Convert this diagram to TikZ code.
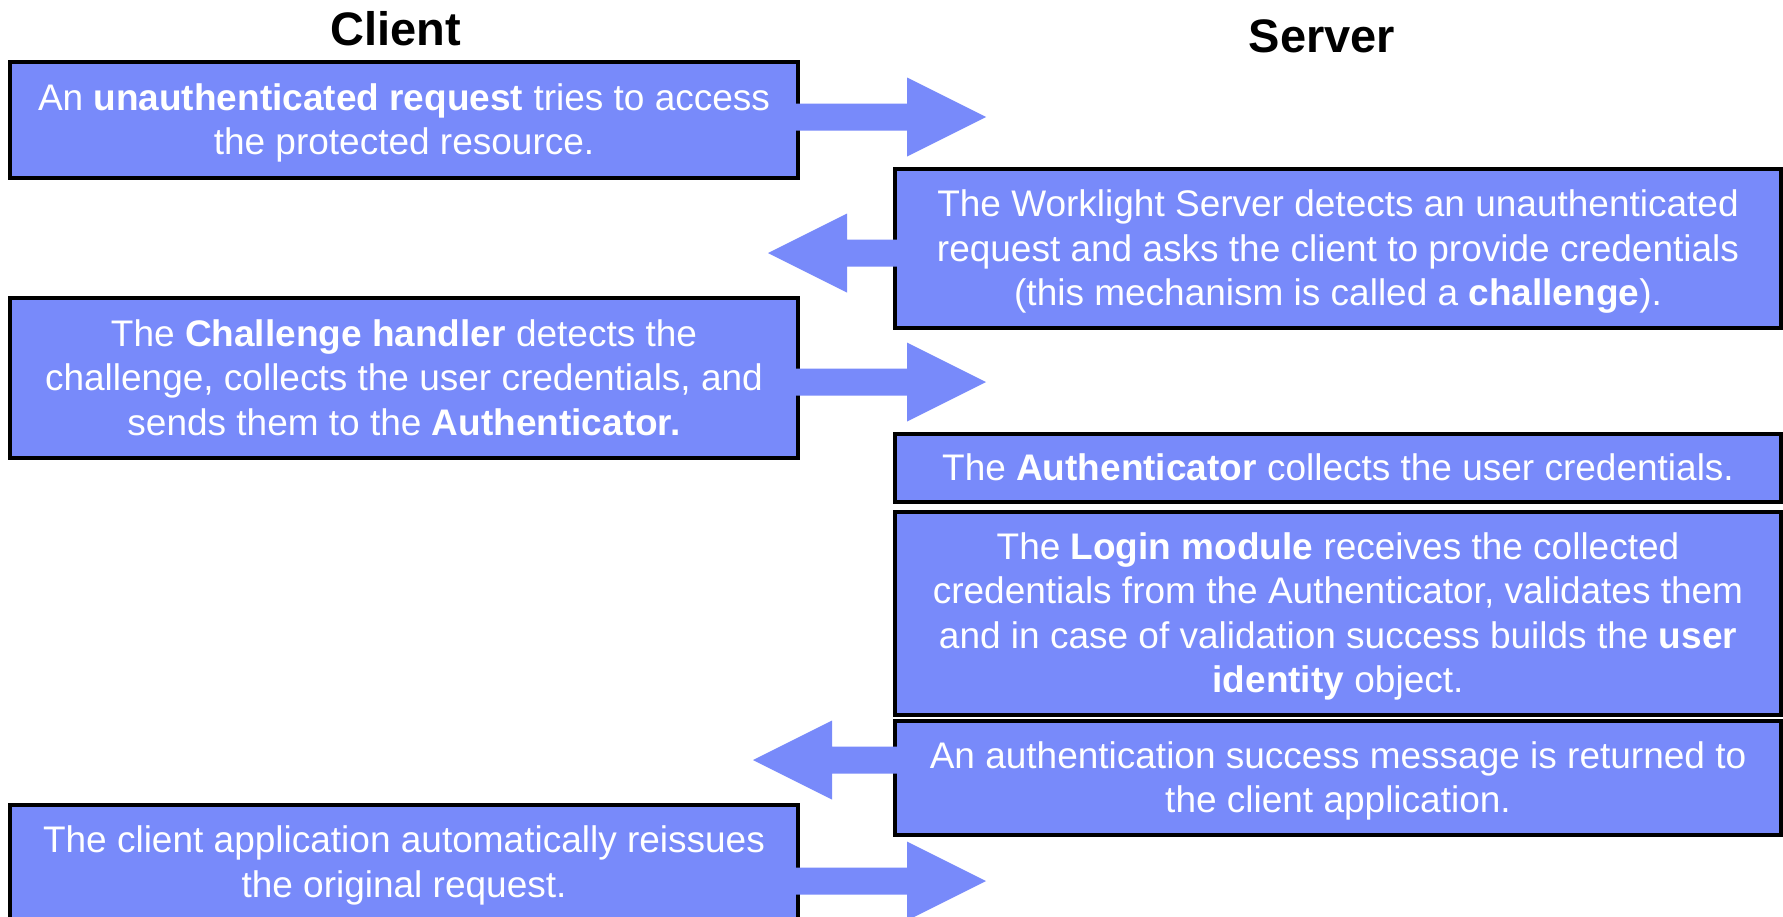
\documentclass[tikz,border=0pt]{standalone}
\usepackage{fontspec}
\setmainfont{Liberation Sans}
\usetikzlibrary{calc}
\definecolor{boxblue}{RGB}{120,138,250}
\newcommand\lnstrut{\rule[-8pt]{0pt}{41pt}}
\tikzset{
  box/.style={draw=black, line width=4pt, fill=boxblue, text=white, align=center,
    inner sep=0pt, outer sep=0pt, font=\fontsize{37}{44.5}\selectfont},
  lbox/.style={box, minimum width=788pt},
  rbox/.style={box, minimum width=886pt},
  title/.style={font=\fontsize{47}{56}\selectfont\bfseries, anchor=base},
  arrowfill/.style={fill=boxblue},
}
\newcommand\barrow[2]{%
  \fill[arrowfill] let \p1=(#1), \p2=(#2), \n1={sign(\x2-\x1)} in
    (\x1,\y1+13.5pt) -- (\x2-\n1*79pt,\y1+13.5pt) -- (\x2-\n1*79pt,\y1+39.5pt)
    -- (\x2,\y2) -- (\x2-\n1*79pt,\y1-39.5pt) -- (\x2-\n1*79pt,\y1-13.5pt)
    -- (\x1,\y1-13.5pt) -- cycle;}
\begin{document}
\begin{tikzpicture}[x=1pt,y=-1pt]
\useasboundingbox (0,0) rectangle (1783,916);
\clip (0,0) rectangle (1783,916);
\fill[white] (0,0) rectangle (1783,916);

\node[title] (client) at (396,45) {Client};
\node[title] (server) at (1322,52) {Server};

\node[lbox, minimum height=116pt] (b1) at (404,120)
  {\lnstrut An \textbf{unauthenticated request} tries to access\\\lnstrut the protected resource.};
\node[rbox, minimum height=159pt] (b2) at (1338,248.5)
  {\lnstrut The Worklight Server detects an unauthenticated\\\lnstrut request and asks the client to provide credentials\\\lnstrut (this mechanism is called a \textbf{challenge}).};
\node[lbox, minimum height=160pt] (b3) at (404,378)
  {\lnstrut The \textbf{Challenge handler} detects the\\\lnstrut challenge, collects the user credentials, and\\\lnstrut sends them to the \textbf{Authenticator.}};
\node[rbox, minimum height=68pt] (b4) at (1338,468)
  {\lnstrut The \textbf{Authenticator} collects the user credentials.};
\node[rbox, minimum height=203pt] (b5) at (1338,613.5)
  {\lnstrut The \textbf{Login module} receives the collected\\\lnstrut credentials from the Authenticator, validates them\\\lnstrut and in case of validation success builds the \textbf{user}\\\lnstrut \textbf{identity} object.};
\node[rbox, minimum height=114pt] (b6) at (1338,778)
  {\lnstrut An authentication success message is returned to\\\lnstrut the client application.};
\node[lbox, minimum height=115pt] (b7) at (404,862.5)
  {\lnstrut The client application automatically reissues\\\lnstrut the original request.};

\coordinate (t1) at (986,117);
\coordinate (t2) at (768,253);
\coordinate (t3) at (986,382);
\coordinate (t6) at (753,760);
\coordinate (t7) at (986,881);
\coordinate (s1) at ($(b1.east |- t1)+(-3,0)$);
\coordinate (s2) at ($(b2.west |- t2)+(3,0)$);
\coordinate (s3) at ($(b3.east |- t3)+(-3,0)$);
\coordinate (s6) at ($(b6.west |- t6)+(3,0)$);
\coordinate (s7) at ($(b7.east |- t7)+(-3,0)$);
\barrow{s1}{t1}
\barrow{s2}{t2}
\barrow{s3}{t3}
\barrow{s6}{t6}
\barrow{s7}{t7}
\end{tikzpicture}
\end{document}
